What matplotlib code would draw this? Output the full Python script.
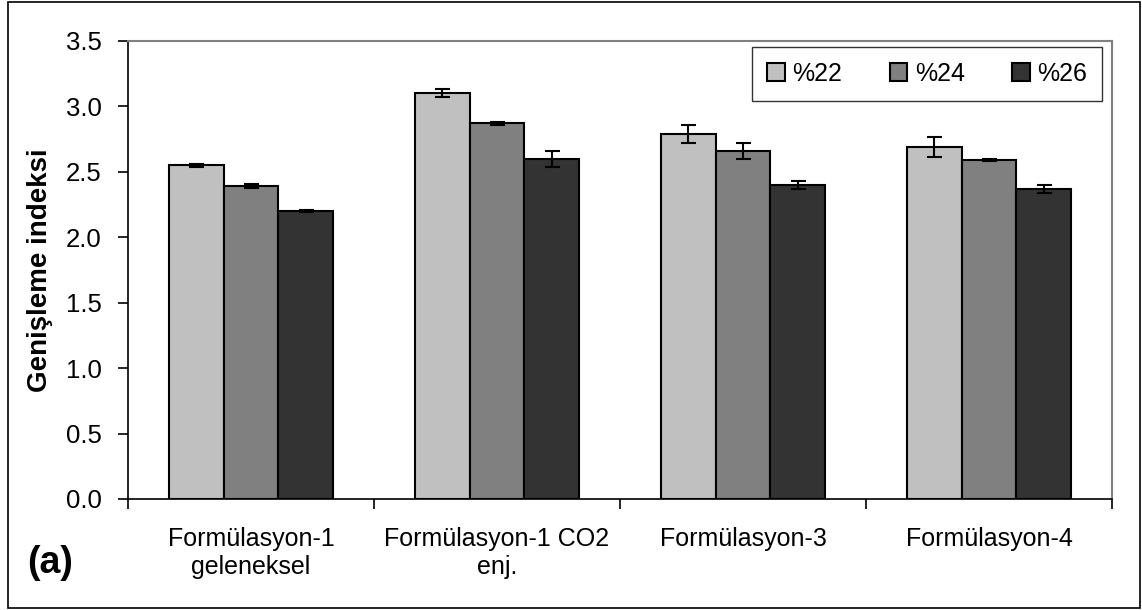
import numpy as np
import matplotlib.pyplot as plt
from matplotlib.patches import Rectangle

plt.rcParams['font.family'] = ['Liberation Sans', 'DejaVu Sans']

categories = ['Formülasyon-1\ngeleneksel', 'Formülasyon-1 CO2\nenj.',
              'Formülasyon-3', 'Formülasyon-4']
series = ['%22', '%24', '%26']
vals_22 = [2.55, 3.10, 2.79, 2.69]
vals_24 = [2.39, 2.87, 2.66, 2.59]
vals_26 = [2.20, 2.60, 2.40, 2.37]
err_22 = [0.01, 0.03, 0.07, 0.08]
err_24 = [0.015, 0.01, 0.06, 0.01]
err_26 = [0.01, 0.06, 0.03, 0.03]
colors = ['#c0c0c0', '#808080', '#333333']

fig = plt.figure(figsize=(11.42, 6.10), dpi=100)
ax = fig.add_axes([0.1121, 0.182, 0.8616, 0.7508])

x = np.arange(len(categories))
w = 1 / 4.5
for i, (v, e) in enumerate(zip([vals_22, vals_24, vals_26], [err_22, err_24, err_26])):
    ax.bar(x + (i - 1) * w, v, w, color=colors[i], edgecolor='black', linewidth=1.5,
           label=series[i], zorder=2)
    ax.errorbar(x + (i - 1) * w, v, yerr=e, fmt='none', ecolor='black',
                elinewidth=1.5, capsize=5.4, capthick=1.5, zorder=3)

ax.set_xlim(-0.5, len(categories) - 0.5)
ax.set_ylim(0, 3.5)
ax.set_yticks(np.arange(0, 3.51, 0.5))
ax.set_yticklabels(['%.1f' % t for t in np.arange(0, 3.51, 0.5)])
ax.set_xticks(np.arange(len(categories) + 1) - 0.5)
ax.set_xticklabels([])
ax.set_xticks(x, minor=True)
ax.set_xticklabels(categories, minor=True)
ax.tick_params(axis='x', which='minor', length=0, pad=20, labelsize=18)
ax.tick_params(axis='x', which='major', length=7, width=1.2, direction='out')
ax.tick_params(axis='y', length=7, width=1.2, direction='out', labelsize=18.5, pad=12)
for lab in ax.get_xticklabels(minor=True):
    lab.set_linespacing(1.2)

ax.spines['left'].set_linewidth(1.2)
ax.spines['bottom'].set_linewidth(1.2)
ax.spines['top'].set_color('#808080')
ax.spines['right'].set_color('#808080')
ax.spines['top'].set_linewidth(1.5)
ax.spines['right'].set_linewidth(1.5)

ax.set_ylabel('Genişleme indeksi', fontsize=20, fontweight='bold')
ax.yaxis.set_label_coords(-0.076, 0.5)

leg = ax.legend(loc='upper right', bbox_to_anchor=(0.990, 0.987), borderaxespad=0,
                ncol=3, fontsize=18, frameon=True, fancybox=False, edgecolor='black',
                handlelength=0.7, handleheight=0.7, handletextpad=0.3,
                columnspacing=1.9, borderpad=0.6)
leg.get_frame().set_linewidth(1.0)

fig.text(0.024, 0.06, '(a)', fontsize=27, fontweight='bold')

fig.patches.append(Rectangle((0.007, 0.0033), 0.991, 0.9934, transform=fig.transFigure,
                             fill=False, edgecolor='black', linewidth=1.2))

fig.savefig('out.png', dpi=100)
